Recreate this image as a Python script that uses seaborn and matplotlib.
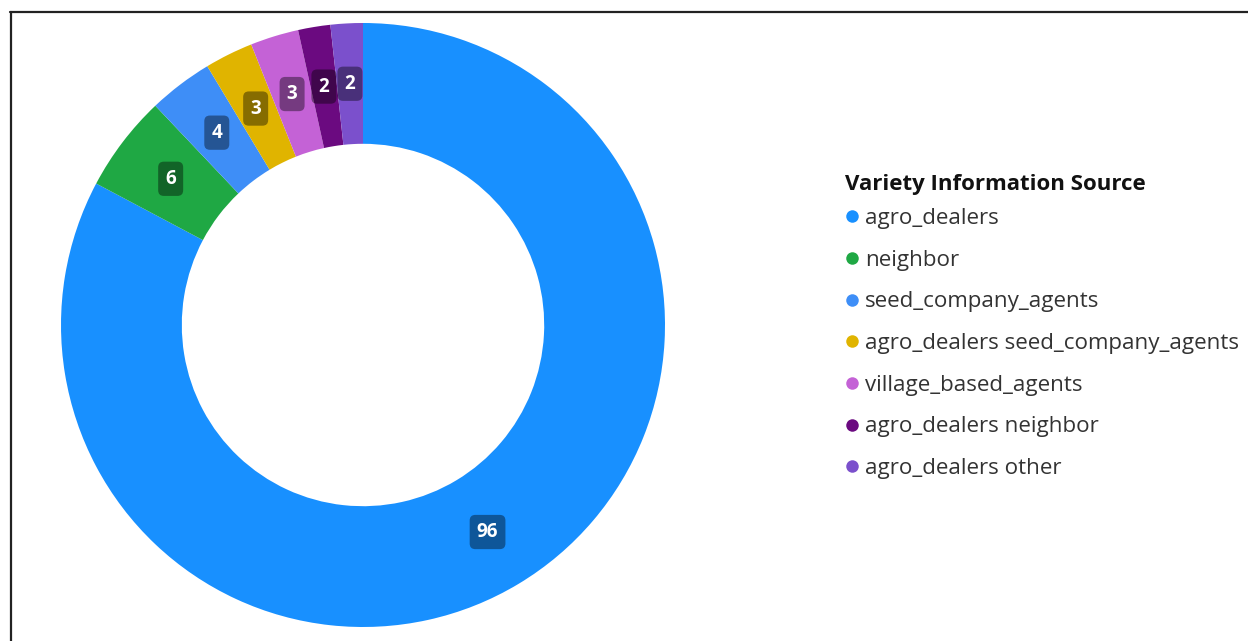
import matplotlib
matplotlib.use("Agg")
import matplotlib.pyplot as plt
from matplotlib.lines import Line2D
import seaborn as sns

# Variety information sources and respondent counts
sources = [
    "agro_dealers",
    "neighbor",
    "seed_company_agents",
    "agro_dealers seed_company_agents",
    "village_based_agents",
    "agro_dealers neighbor",
    "agro_dealers other",
]
counts = [96, 6, 4, 3, 3, 2, 2]
colors = ["#1890FF", "#1FA844", "#3E8EF7", "#E0B400", "#C462D6", "#6B0A80", "#7B50CC"]
legend_title = "Variety Information Source"

sns.set_theme(style="white")
plt.rcParams["font.family"] = ["Open Sans", "DejaVu Sans"]

W, H = 1248, 641
fig = plt.figure(figsize=(W / 100, H / 100), dpi=100)
fig.patch.set_facecolor("white")

cx, cy, R = 363, 325, 302
ax = fig.add_axes([(cx - R) / W, (H - cy - R) / H, 2 * R / W, 2 * R / H])

total = sum(counts)
wedges, _, autotexts = ax.pie(
    counts,
    colors=colors,
    startangle=90,
    counterclock=False,
    radius=1.0,
    wedgeprops=dict(width=0.4, edgecolor="none", linewidth=0),
    autopct=lambda p: f"{round(p * total / 100):d}",
    pctdistance=0.8,
)
for t in autotexts:
    t.set_color("white")
    t.set_fontweight("bold")
    t.set_fontsize(13.5)
    t.set_bbox(dict(boxstyle="round,pad=0.38,rounding_size=0.3",
                    facecolor="black", alpha=0.4, edgecolor="none"))
ax.set_xlim(-1, 1)
ax.set_ylim(-1, 1)
ax.set_aspect("equal")
ax.axis("off")

# Legend title and entries
fig.text(845 / W, 1 - 184 / H, legend_title, ha="left", va="center",
         fontsize=16.0, fontweight="bold", color="#111111")

handles = [Line2D([0], [0], marker="o", linestyle="none", markersize=9,
                  markerfacecolor=c, markeredgecolor="none") for c in colors]
leg = fig.legend(
    handles, sources,
    loc="upper left",
    bbox_to_anchor=(841 / W, 1 - 208 / H),
    frameon=False,
    fontsize=16.1,
    handletextpad=0.07,
    handlelength=1.0,
    labelspacing=0.925,
    borderaxespad=0,
    borderpad=0,
)
for txt in leg.get_texts():
    txt.set_color("#333333")

# Frame lines along the top and left edges
fig.add_artist(Line2D([10.5 / W, 10.5 / W], [0, 1 - 12 / H], transform=fig.transFigure,
                      color="#222222", linewidth=1.6))
fig.add_artist(Line2D([10 / W, 1], [1 - 12 / H, 1 - 12 / H], transform=fig.transFigure,
                      color="#222222", linewidth=1.6))

fig.savefig("out.png", dpi=100, facecolor="white")
